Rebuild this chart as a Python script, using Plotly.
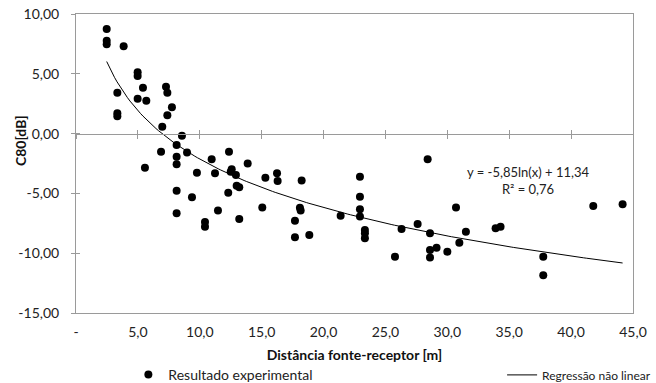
import numpy as np
import plotly.graph_objects as go

# Source-receiver distance [m] and measured C80 [dB]
distancia = [2.48, 2.48, 2.48, 3.85, 4.98, 4.98, 3.34, 5.41, 4.98, 5.68,
             7.27, 7.38, 7.75, 7.38, 3.34, 3.34, 6.97, 8.56, 8.13, 6.87,
             8.13, 8.97, 8.13, 5.57, 10.96, 12.36, 9.77, 11.23, 12.58, 12.50,
             12.92, 13.87, 12.98, 13.19, 12.30, 8.13, 9.37, 11.47, 8.13, 13.19,
             10.42, 10.42, 15.05, 15.30, 16.24, 16.29, 18.23, 18.09, 18.15, 17.69,
             17.69, 18.85, 21.38, 22.94, 22.94, 22.94, 22.94, 23.34, 23.34, 23.34,
             25.77, 26.30, 27.60, 28.41, 28.60, 28.60, 29.13, 28.60, 30.00, 30.97,
             31.50, 30.70, 33.90, 34.30, 37.75, 37.75, 41.79, 44.16]
c80 = [8.75, 7.77, 7.47, 7.30, 5.13, 4.82, 3.42, 3.84, 2.92, 2.75,
       3.92, 3.42, 2.20, 1.53, 1.70, 1.45, 0.58, -0.17, -0.95, -1.51,
       -1.93, -1.57, -2.57, -2.85, -2.15, -1.51, -3.27, -3.32, -2.99, -3.18,
       -3.46, -2.51, -4.35, -4.49, -4.94, -4.77, -5.33, -6.44, -6.67, -7.14,
       -7.39, -7.78, -6.17, -3.69, -3.32, -3.96, -3.93, -6.19, -6.44, -7.28,
       -8.67, -8.48, -6.86, -3.60, -5.27, -6.33, -6.94, -8.06, -8.34, -8.75,
       -10.29, -7.98, -7.56, -2.15, -8.34, -9.73, -9.54, -10.35, -9.87, -9.12,
       -8.20, -6.17, -7.92, -7.78, -10.29, -11.85, -6.05, -5.91]

# Logarithmic fit: y = a*ln(x) + b
coef_a = -5.85
coef_b = 11.34
r2 = 0.76

x_ticks = [0, 5, 10, 15, 20, 25, 30, 35, 40, 45]
x_ticktext = ["-", "5,0", "10,0", "15,0", "20,0", "25,0", "30,0", "35,0", "40,0", "45,0"]
y_ticks = [10, 5, 0, -5, -10, -15]
y_ticktext = ["10,00", "5,00", "0,00", "-5,00", "-10,00", "-15,00"]

FONT = "Lato"
FS = 14
AXIS_GREY = "#9a9a9a"
TEXT = "#222222"

x_fit = np.linspace(min(distancia), max(distancia), 200)
y_fit = coef_a * np.log(x_fit) + coef_b

fig = go.Figure()
fig.add_trace(go.Scatter(
    x=distancia, y=c80, mode="markers", name="Resultado experimental",
    marker=dict(color="black", size=8), legend="legend",
))
fig.add_trace(go.Scatter(
    x=x_fit, y=y_fit, mode="lines", name="Regressão não linear",
    line=dict(color="black", width=1), legend="legend2",
))

eq_text = (f"y = {coef_a:.2f}ln(x) + {coef_b:.2f}".replace(".", ",")
           + "<br>" + f"R² = {r2:.2f}".replace(".", ","))
fig.add_annotation(x=36.5, y=-3.95, xref="x", yref="y", text=eq_text,
                   showarrow=False, xanchor="center", yanchor="middle",
                   font=dict(family=FONT, size=13, color=TEXT))

# vertical axis title
fig.add_annotation(x=-0.1005, y=0.575, xref="paper", yref="paper",
                   text="<b>C80[dB]</b>", textangle=-90, showarrow=False,
                   xanchor="center", yanchor="middle",
                   font=dict(family=FONT, size=FS, color="#111"))

legend_common = dict(orientation="h", y=-0.207, yanchor="middle", xanchor="left",
                     bgcolor="rgba(0,0,0,0)", borderwidth=0)

fig.update_layout(
    width=656, height=383,
    margin=dict(l=76, r=23, t=14, b=70, autoexpand=False),
    paper_bgcolor="white", plot_bgcolor="white",
    font=dict(family=FONT, size=FS, color=TEXT),
    showlegend=True,
    legend=dict(x=0.094, font=dict(family=FONT, size=FS, color=TEXT), **legend_common),
    legend2=dict(x=0.765, font=dict(family=FONT, size=12, color=TEXT), **legend_common),
    xaxis=dict(range=[0, 45], tickvals=x_ticks, ticktext=x_ticktext,
               showgrid=False, zeroline=False,
               showline=True, linecolor=AXIS_GREY, linewidth=1, mirror=True,
               ticks="", ticklabelstandoff=6,
               title=dict(text="<b>Distância fonte-receptor [m]</b>", standoff=11,
                          font=dict(family=FONT, size=FS, color="#111"))),
    yaxis=dict(range=[-15, 10], tickvals=y_ticks, ticktext=y_ticktext,
               showgrid=False, zeroline=False,
               showline=True, linecolor=AXIS_GREY, linewidth=1, mirror=True,
               ticks="outside", ticklen=4, tickcolor=AXIS_GREY, ticklabelstandoff=9),
    # inner half of the y-axis cross ticks
    yaxis2=dict(range=[-15, 10], tickvals=y_ticks, overlaying="y", anchor="x",
                showticklabels=False, showgrid=False, zeroline=False, showline=False,
                ticks="inside", ticklen=4, tickcolor=AXIS_GREY),
    # horizontal axis line crossing at C80 = 0, with cross ticks
    xaxis2=dict(range=[0, 45], tickvals=x_ticks, overlaying="x", anchor="free",
                position=0.6, showticklabels=False, showgrid=False, zeroline=False,
                showline=True, linecolor=AXIS_GREY, linewidth=1,
                ticks="outside", ticklen=4, tickcolor=AXIS_GREY),
    xaxis3=dict(range=[0, 45], tickvals=x_ticks, overlaying="x", anchor="free",
                position=0.6, showticklabels=False, showgrid=False, zeroline=False,
                showline=False, ticks="inside", ticklen=4, tickcolor=AXIS_GREY),
)

# invisible traces so the helper axes get drawn
fig.add_trace(go.Scatter(x=[None], y=[None], xaxis="x2", yaxis="y2",
                         showlegend=False, hoverinfo="skip"))
fig.add_trace(go.Scatter(x=[None], y=[None], xaxis="x3", yaxis="y",
                         showlegend=False, hoverinfo="skip"))

fig.write_html("out.html")
